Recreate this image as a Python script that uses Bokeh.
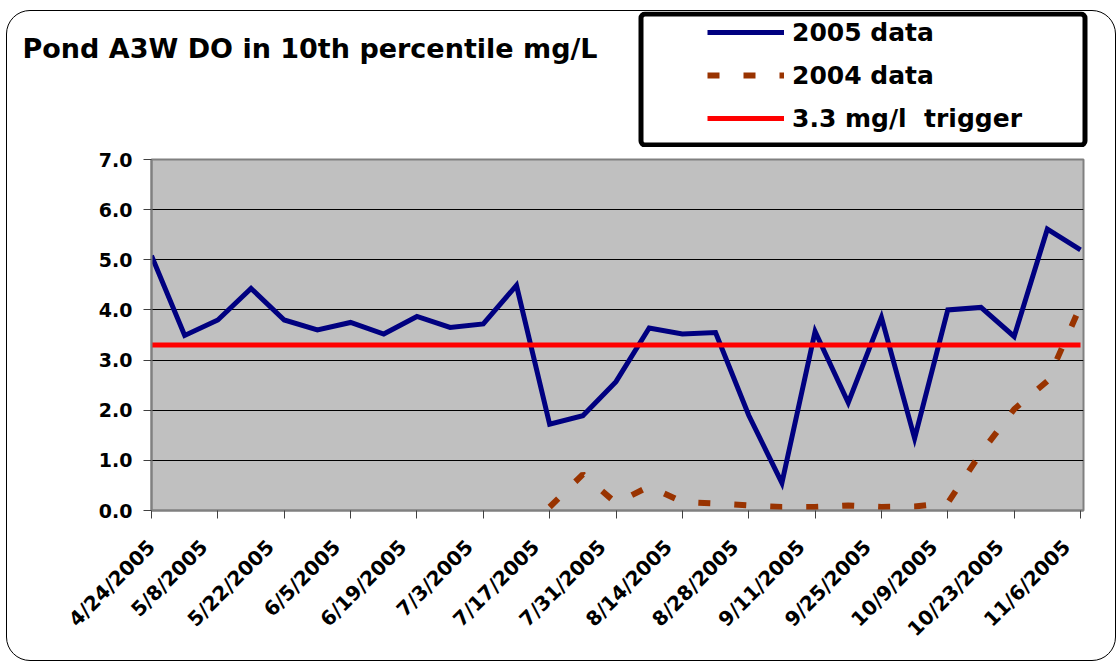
import math
from bokeh.plotting import figure
from bokeh.layouts import column
from bokeh.models import (Range1d, FixedTicker, PrintfTickFormatter, Legend, LegendItem,
                          BoxAnnotation, Label, ColumnDataSource, LinearAxis)
from bokeh.embed import file_html
from bokeh.resources import INLINE

# ---- data ----
dates = ["4/24/2005", "5/1/2005", "5/8/2005", "5/15/2005", "5/22/2005", "5/29/2005",
         "6/5/2005", "6/12/2005", "6/19/2005", "6/26/2005", "7/3/2005", "7/10/2005",
         "7/17/2005", "7/24/2005", "7/31/2005", "8/7/2005", "8/14/2005", "8/21/2005",
         "8/28/2005", "9/4/2005", "9/11/2005", "9/18/2005", "9/25/2005", "10/2/2005",
         "10/9/2005", "10/16/2005", "10/23/2005", "10/30/2005", "11/6/2005"]
do_2005 = [5.08, 3.49, 3.80, 4.43, 3.80, 3.60, 3.75, 3.52, 3.87, 3.65, 3.72, 4.49,
           1.72, 1.89, 2.57, 3.64, 3.52, 3.55, 1.90, 0.55, 3.57, 2.15, 3.85, 1.44,
           4.00, 4.05, 3.47, 5.61, 5.20]
nan = float("nan")
do_2004 = [nan, nan, nan, nan, nan, nan, nan, nan, nan, nan, nan, nan,
           0.07, 0.72, 0.15, 0.48, 0.17, 0.14, 0.10, 0.07, 0.07, 0.10, 0.07, 0.08,
           0.15, 1.15, 2.02, 2.58, 4.08]
trigger = 3.3
trigger_values = [trigger] * len(dates)
y_ticks = [0, 1, 2, 3, 4, 5, 6, 7]
tick_labels = dates[::2]
series_labels = ["2005 data", "2004 data", "3.3 mg/l  trigger"]
title_text = "Pond A3W DO in 10th percentile mg/L"

C05, C04, CTR = "#000080", "#993300", "#FF0000"
FONT = "DejaVu Sans"

x = list(range(len(dates)))
src = ColumnDataSource(dict(x=x, d2005=do_2005, d2004=do_2004, trig=trigger_values))

W = 1108
H_TOP, H_BOT = 136, 513
X_MAX = 28.09
LABEL_SHIFT = 0.42   # label axis offset (in weeks) so rotated labels end left of their tick

# ---------------- top strip: title + legend ----------------
top = figure(width=W, height=H_TOP, output_backend="svg", toolbar_location=None,
             x_axis_type=None, y_axis_type=None, min_border=0,
             x_range=Range1d(0, 1), y_range=Range1d(0, 1))
top.frame_align = False
top.outline_line_color = None
top.background_fill_alpha = 0
top.border_fill_alpha = 0
# legend proxies (no visible data, only used for the legend swatches)
proxy = ColumnDataSource(dict(x=[nan], y=[nan]))
l05 = top.line("x", "y", source=proxy, line_color=C05, line_width=5)
l04 = top.line("x", "y", source=proxy, line_color=C04, line_width=6, line_dash="12 24", line_cap="butt")
ltr = top.line("x", "y", source=proxy, line_color=CTR, line_width=5)

box = BoxAnnotation(left=633.5, right=1077.5, top=133.5, bottom=2.5,
                    left_units="screen", right_units="screen", top_units="screen", bottom_units="screen",
                    fill_color="white", fill_alpha=1, line_color="black", line_alpha=1, line_width=5,
                    border_radius=4)
top.add_layout(box)

legend = Legend(items=[LegendItem(label=series_labels[0], renderers=[l05]),
                       LegendItem(label=series_labels[1], renderers=[l04]),
                       LegendItem(label=series_labels[2], renderers=[ltr])],
                location=(700, 14), padding=0, margin=0, spacing=13,
                glyph_width=77, glyph_height=30, label_height=30, label_standoff=8,
                border_line_alpha=0, background_fill_alpha=0,
                label_text_font=FONT, label_text_font_style="bold",
                label_text_font_size="25px", label_text_color="black")
top.add_layout(legend)

title = Label(x=15, y=99, x_units="screen", y_units="screen", text=title_text,
              text_font=FONT, text_font_style="bold", text_font_size="27px",
              text_color="black", text_baseline="alphabetic")
top.add_layout(title)

# ---------------- main chart ----------------
p = figure(width=W, height=H_BOT, output_backend="svg", toolbar_location=None,
           x_range=Range1d(0, X_MAX), y_range=Range1d(0, 7),
           min_border_left=144, min_border_right=32, min_border_top=12, min_border_bottom=150)
p.frame_align = False
p.background_fill_color = "#C0C0C0"
p.border_fill_alpha = 0
p.outline_line_color = "#808080"
p.outline_line_width = 2

p.xgrid.visible = False
p.ygrid.ticker = FixedTicker(ticks=y_ticks)
p.ygrid.grid_line_color = "black"
p.ygrid.grid_line_width = 1

ya = p.yaxis[0]
ya.ticker = FixedTicker(ticks=y_ticks)
ya.formatter = PrintfTickFormatter(format="%.1f")
ya.axis_line_color = "#808080"
ya.axis_line_width = 2
ya.major_tick_line_color = "#404040"
ya.major_tick_in = 0
ya.major_tick_out = 8
ya.minor_tick_line_color = None
ya.major_label_text_font = FONT
ya.major_label_text_font_style = "bold"
ya.major_label_text_font_size = "19px"
ya.major_label_text_color = "black"
ya.major_label_standoff = 11

tick_pos = x[::2]
# main x axis: line + tick marks only
xa = p.xaxis[0]
xa.ticker = FixedTicker(ticks=tick_pos)
xa.major_label_overrides = {t: "" for t in tick_pos}
xa.major_label_text_font_size = "1px"
xa.major_label_standoff = 0
xa.axis_line_color = "#808080"
xa.axis_line_width = 2
xa.major_tick_line_color = "#404040"
xa.major_tick_in = 0
xa.major_tick_out = 8
xa.minor_tick_line_color = None

# label axis (slightly offset range so labels sit like the original);
# the first label is kept at the axis start so it stays inside the range
p.extra_x_ranges = {"lab": Range1d(LABEL_SHIFT, X_MAX + LABEL_SHIFT)}
label_pos = [max(t, LABEL_SHIFT) for t in tick_pos]
la = LinearAxis(x_range_name="lab", ticker=FixedTicker(ticks=label_pos))
la.major_label_overrides = {v: lab for v, lab in zip(label_pos, tick_labels)}
la.axis_line_color = None
la.major_tick_line_color = None
la.minor_tick_line_color = None
la.major_tick_in = 0
la.major_tick_out = 0
la.major_label_orientation = math.pi / 4
la.major_label_text_font = FONT
la.major_label_text_font_style = "bold"
la.major_label_text_font_size = "20px"
la.major_label_text_color = "black"
la.major_label_standoff = 25
p.add_layout(la, "below")

p.line("x", "d2005", source=src, line_color=C05, line_width=5, line_join="miter")
p.line("x", "trig", source=src, line_color=CTR, line_width=5)
p.line("x", "d2004", source=src, line_color=C04, line_width=6, line_dash="12 24", line_cap="butt")

layout = column(top, p, spacing=0)
layout.styles = {"border": "1px solid #000000", "border-radius": "24px",
                 "margin-left": "6px", "margin-top": "10px"}

open("out.html", "w").write(file_html(layout, INLINE))
